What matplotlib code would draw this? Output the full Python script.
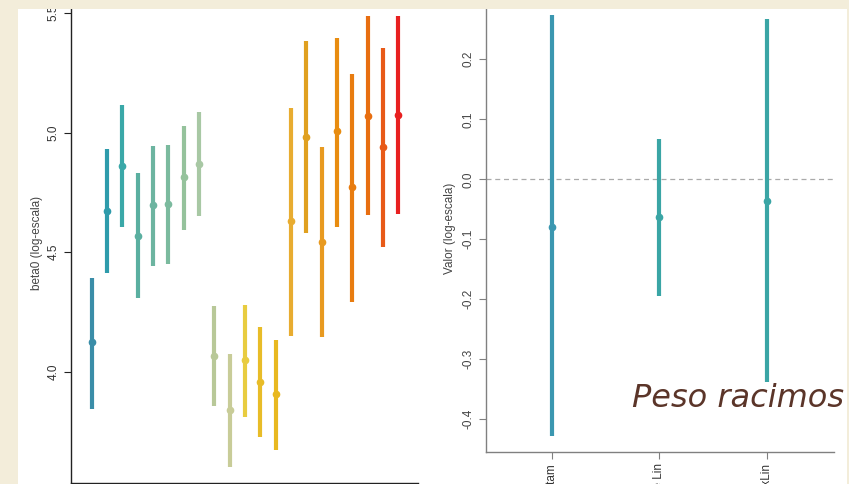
import matplotlib
matplotlib.use("Agg")
import matplotlib.pyplot as plt
from matplotlib.patches import Rectangle

plt.rcParams['font.family'] = ['Liberation Sans', 'DejaVu Sans']

# datos panel izquierdo: beta0 por grupo (estimacion e intervalo)
beta0_est = [4.126, 4.674, 4.862, 4.568, 4.697, 4.702, 4.813, 4.869,
             4.067, 3.841, 4.048, 3.956, 3.905,
             4.632, 4.981, 4.541, 5.007, 4.774, 5.071, 4.941, 5.074]
beta0_lo = [3.844, 4.412, 4.604, 4.307, 4.442, 4.451, 4.593, 4.651,
            3.856, 3.603, 3.812, 3.726, 3.672,
            4.151, 4.579, 4.144, 4.607, 4.292, 4.656, 4.521, 4.659]
beta0_hi = [4.393, 4.933, 5.115, 4.831, 4.944, 4.950, 5.027, 5.088,
            4.275, 4.073, 4.278, 4.188, 4.133,
            5.103, 5.384, 4.940, 5.395, 5.244, 5.490, 5.356, 5.490]
beta0_yticks = [4.0, 4.5, 5.0, 5.5]

# datos panel derecho: efectos
efectos = ['Tratam', 'Pendiente Lin', 'TratxLin']
efecto_est = [-0.079, -0.0633, -0.0357]
efecto_lo = [-0.428, -0.1945, -0.3373]
efecto_hi = [0.274, 0.0667, 0.2667]
efecto_yticks = [-0.4, -0.3, -0.2, -0.1, 0.0, 0.1, 0.2]

colores = ['#3A8DA8', '#2E9BAB', '#3AA8A8', '#5AAFA0', '#6CB4A0', '#7BBA9E',
           '#95C29C', '#A8C8A4', '#B8C898', '#C8CC98', '#E8CC40', '#E8BC28',
           '#E8B820', '#E8AC30', '#E0A020', '#E89A20', '#E88C10', '#E87C10',
           '#E86E10', '#E85A18', '#E82020']
colores_der = ['#3B97B0', '#3AA5A5', '#3AA5A5']

W, H = 849, 484
fig = plt.figure(figsize=(W / 100, H / 100), dpi=100)
fig.patch.set_facecolor('white')


def caja(x0, y0, x1, y1):
    # pixeles (origen arriba-izquierda) -> fraccion de figura
    return [x0 / W, 1 - y1 / H, (x1 - x0) / W, (y1 - y0) / H]


# panel izquierdo
ax1 = fig.add_axes(caja(71, 9, 418, 482.5))
ax1.patch.set_alpha(0)
for i in range(len(beta0_est)):
    ax1.plot([i + 1, i + 1], [beta0_lo[i], beta0_hi[i]], color=colores[i],
             lw=3, solid_capstyle='butt')
    ax1.plot(i + 1, beta0_est[i], 'o', color=colores[i], ms=4.5)
ax1.set_xlim(-0.35, 22.29)
ax1.set_ylim(3.5364, 5.5176)
ax1.set_xticks([])
ax1.set_yticks(beta0_yticks)
ax1.set_yticklabels(['%.1f' % v for v in beta0_yticks], rotation=90,
                    va='center', fontsize=8.5, color='#333333')
ax1.tick_params(axis='y', length=5, width=0.8, color='#222222', pad=3)
for s in ['top', 'right']:
    ax1.spines[s].set_visible(False)
for s in ['left', 'bottom']:
    ax1.spines[s].set_color('#222222')
    ax1.spines[s].set_linewidth(1.0)
fig.text(37 / W, 1 - 243 / H, 'beta0 (log-escala)', rotation=90,
         ha='center', va='center', fontsize=8.5, color='#444444')

# panel derecho
ax2 = fig.add_axes(caja(485.7, 9, 834, 452))
ax2.patch.set_alpha(0)
ax2.axhline(0, color='#AAAAAA', lw=0.9, ls=(0, (4, 3)), zorder=1)
for i in range(len(efectos)):
    ax2.plot([i + 1, i + 1], [efecto_lo[i], efecto_hi[i]], color=colores_der[i],
             lw=3, solid_capstyle='butt', zorder=2)
    ax2.plot(i + 1, efecto_est[i], 'o', color=colores_der[i], ms=4.5, zorder=3)
ax2.set_xlim(0.386, 3.626)
ax2.set_ylim(-0.4545, 0.2838)
ax2.set_xticks(range(1, len(efectos) + 1))
ax2.set_xticklabels(efectos, rotation=90, ha='center', va='top',
                    fontsize=8.5, color='#333333')
ax2.set_yticks(efecto_yticks)
ax2.set_yticklabels(['%.1f' % v for v in efecto_yticks], rotation=90,
                    va='center', fontsize=8.5, color='#444444')
ax2.tick_params(length=5, width=0.8, color='#808080', pad=3)
for s in ['top', 'right']:
    ax2.spines[s].set_visible(False)
for s in ['left', 'bottom']:
    ax2.spines[s].set_color('#808080')
    ax2.spines[s].set_linewidth(1.0)
fig.text(450 / W, 1 - 228 / H, 'Valor (log-escala)', rotation=90,
         ha='center', va='center', fontsize=8.5, color='#444444')

# marco beige de la diapositiva
beige = '#F3EDDA'
for x0, y0, x1, y1 in [(0, 0, W, 9), (0, 0, 18, H), (847, 0, W, H)]:
    r = caja(x0, y0, x1, y1)
    fig.patches.append(Rectangle((r[0], r[1]), r[2], r[3], transform=fig.transFigure,
                                 facecolor=beige, edgecolor='none', zorder=10))

fig.text(844 / W, 1 - 407 / H, 'Peso racimos', ha='right', va='baseline',
         fontsize=23, style='italic', color='#5B3529',
         family=['DejaVu Sans'], zorder=11)

fig.savefig('out.png', dpi=100, facecolor=fig.get_facecolor())
